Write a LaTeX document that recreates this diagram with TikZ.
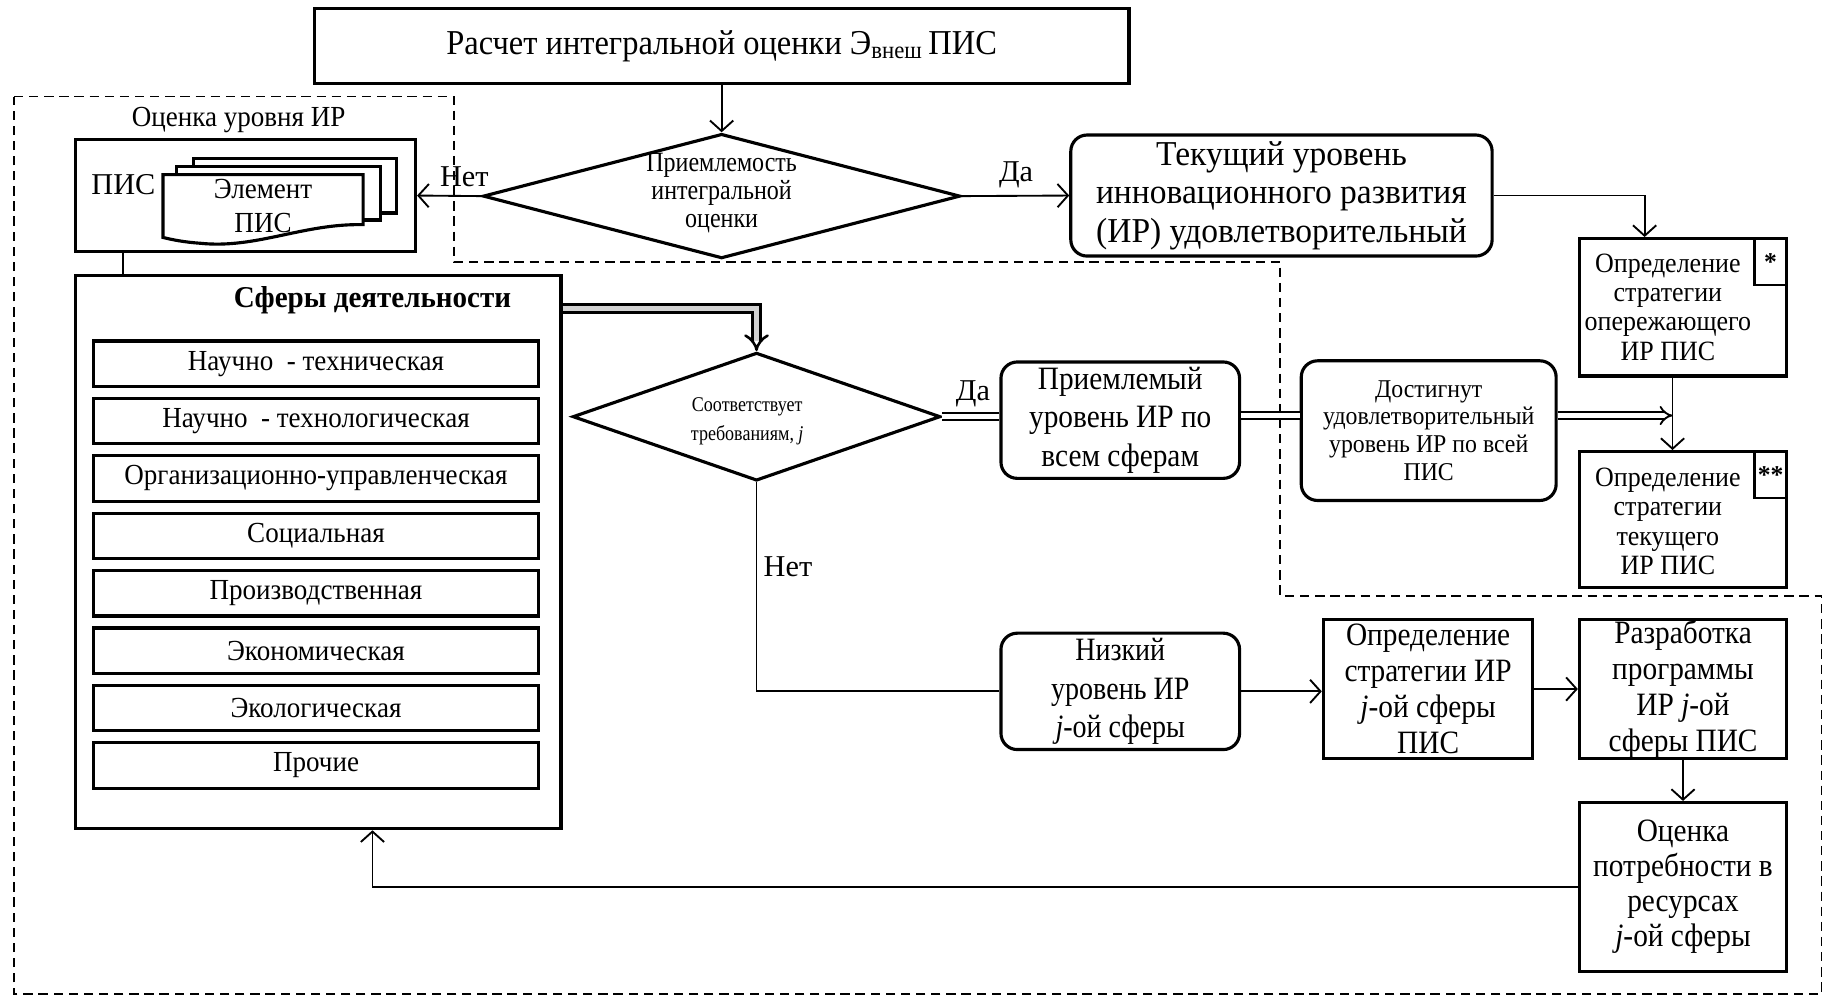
\documentclass[tikz,border=0pt]{standalone}
\usepackage{fontspec}
\setmainfont{Liberation Serif}
\newfontfamily\cond{Liberation Serif}[FakeStretch=0.86]
\newfontfamily\midcond{Liberation Serif}[FakeStretch=0.9]
\newfontfamily\semicond{Liberation Serif}[FakeStretch=0.93]
\newfontfamily\lightcond{Liberation Serif}[FakeStretch=0.96]
\usetikzlibrary{arrows.meta,shapes.geometric}
\begin{document}
\begin{tikzpicture}[x=1pt,y=-1pt,
  box/.style={draw, line width=2.7pt, inner sep=0pt, align=center},
  rbox/.style={box, rounded corners=14pt},
  dia/.style={draw, diamond, line width=2.7pt, inner sep=0pt},
  conn/.style={line width=1.6pt, -{Straight Barb[length=9pt,width=20pt,line width=1.6pt]}},
  plain/.style={line width=1.6pt},
  dbl/.style={line width=1.6pt, double distance=4pt},
  dblarrow/.style={dbl, -{Implies[length=10pt]}},
  graydbl/.style={line width=2.2pt, double=gray!35, double distance=5pt, -{Implies[length=10pt]}},
  lbl/.style={inner sep=0pt, font=\fontsize{26}{28}\selectfont},
  bnd/.style={line width=1.5pt, dash pattern=on 8pt off 5pt}
]
\useasboundingbox (0,0) rectangle (1568,856);

% outer dashed boundary
\draw[bnd] (12,83) -- (390,83) -- (390,225) -- (1100,225) -- (1100,512) -- (1565,512) -- (1565,854) -- (12,854) -- cycle;

% top box
\node[box, minimum width=700pt, minimum height=65pt, font=\fontsize{30}{34}\selectfont\semicond] (top) at (620,39.5)
  {Расчет интегральной оценки Э\textsubscript{внеш}\,ПИС};

% diamond 1
\node[dia, minimum width=410pt, minimum height=107pt] (d1) at (620,168.5) {};
\node[align=center, inner sep=0pt, font=\fontsize{24}{24}\selectfont\cond] (d1t) at (620,166) {Приемлемость\\интегральной\\оценки};

% current level box
\node[rbox, minimum width=362pt, minimum height=104pt, font=\fontsize{30}{33}\selectfont\lightcond] (tek) at (1101,168)
  {Текущий уровень\\инновационного развития\\(ИР) удовлетворительный};

% strategy boxes right
\node[box, minimum width=178pt, minimum height=118pt] (b1) at (1446,264) {};
\node[box, minimum width=28pt, minimum height=40pt, anchor=north east, font=\fontsize{22}{22}\selectfont\bfseries, line width=2.2pt] (s1) at (b1.north east) {*};
\node[align=center, inner sep=0pt, font=\fontsize{24}{25}\selectfont\semicond] (b1t) at (1433,264) {Определение\\стратегии\\опережающего\\ИР ПИС};

\node[box, minimum width=178pt, minimum height=117pt] (b2) at (1446,446.5) {};
\node[box, minimum width=28pt, minimum height=40pt, anchor=north east, font=\fontsize{22}{22}\selectfont\bfseries, line width=2.2pt] (s2) at (b2.north east) {**};
\node[align=center, inner sep=0pt, font=\fontsize{24}{25}\selectfont\semicond] (b2t) at (1433,448) {Определение\\стратегии\\текущего\\ИР ПИС};

% achieved box
\node[rbox, minimum width=219pt, minimum height=120pt, font=\fontsize{22}{24}\selectfont\semicond] (dost) at (1227.5,370)
  {Достигнут\\удовлетворительный\\уровень ИР по всей\\ПИС};

% acceptable box
\node[rbox, minimum width=205pt, minimum height=100pt, font=\fontsize{28}{33}\selectfont\midcond] (prem) at (962.5,361)
  {Приемлемый\\уровень ИР по\\всем сферам};

% diamond 2
\node[dia, minimum width=316pt, minimum height=110pt] (d2) at (650,358) {};
\node[align=center, inner sep=0pt, font=\fontsize{18}{25}\selectfont\cond] (d2t) at (642,362) {Соответствует\\требованиям, \textit{j}};

% low level
\node[rbox, minimum width=205pt, minimum height=100pt, font=\fontsize{28}{33}\selectfont\cond] (niz) at (962.5,594)
  {Низкий\\уровень ИР\\\textit{j}-ой сферы};

\node[box, minimum width=180pt, minimum height=120pt, font=\fontsize{28}{31}\selectfont\midcond] (opr) at (1227,592)
  {Определение\\стратегии ИР\\\textit{j}-ой сферы\\ПИС};

\node[box, minimum width=178pt, minimum height=120pt, font=\fontsize{28}{31}\selectfont\midcond] (razr) at (1446,592)
  {Разработка\\программы\\ИР \textit{j}-ой\\сферы ПИС};

\node[box, minimum width=178pt, minimum height=145pt, font=\fontsize{28}{30}\selectfont\midcond] (ocen) at (1446,762)
  {Оценка\\потребности в\\ресурсах\\\textit{j}-ой сферы};

% spheres box
\node[box, minimum width=417pt, minimum height=475pt] (sf) at (273.5,474.5) {};
\node[inner sep=0pt, font=\fontsize{26}{28}\selectfont\bfseries\lightcond] (sft) at (320,258) {Сферы деятельности};
\foreach \i/\t in {0/{Научно\ \ -\ техническая},1/{Научно\ \ -\ технологическая},2/{Организационно-управленческая},3/{Социальная},4/{Производственная},5/{Экономическая},6/{Экологическая},7/{Прочие}}{
  \node[box, minimum width=383pt, minimum height=39pt, font=\fontsize{25}{26}\selectfont\semicond] (it\i) at (271.5,312.5+49.3*\i) {\t};
}

% PIS box
\node[box, minimum width=292pt, minimum height=96pt] (pis) at (211,168) {};
\node[lbl] (pisl) at (106,159) {ПИС};
\node[inner sep=0pt, font=\fontsize{25}{28}\selectfont\semicond] (ocl) at (205,103) {Оценка уровня ИР};
% document stack
\draw[line width=2.7pt, fill=white] (166,136) -- (341,136) -- (341,183) -- (166,183) -- cycle;
\draw[line width=2.7pt, fill=white] (152,143) -- (327,143) -- (327,189) -- (152,189) -- cycle;
\draw[line width=2.7pt, fill=white] (140,150) -- (312,150) -- (312,193)
   .. controls (260,192) and (220,214) .. (172,209) .. controls (158,208) and (148,206) .. (140,204) -- cycle;
\node[align=center, inner sep=0pt, font=\fontsize{25}{30}\selectfont\semicond] (elt) at (226,177) {Элемент\\ПИС};

% connectors
\draw[conn] (top.south) -- (d1.north);
\draw[conn] (d1.west) -- (pis.east);
\node[lbl] (net1) at (399,152) {Нет};
\draw[conn] (d1.east) -- (tek.west);
\node[lbl] (da1) at (873,150) {Да};
\draw[conn] (tek.east) -| ([xshift=-33pt]b1.north);
\draw[conn] ([xshift=-9pt]b1.south) -- ([xshift=-9pt]b2.north);
\coordinate (join) at (1437,357);
\draw[dblarrow] (dost.east |- join) -- (join);
\draw[dbl] (prem.east |- join) -- (dost.west |- join);
\draw[dbl] (d2.east) -- (prem.west |- d2.east);
\node[lbl] (da2) at (836,338) {Да};
\draw[graydbl] (sf.east |- 0,265) -| (d2.north);
\draw[plain] (d2.south) |- (niz.west);
\node[lbl] (net2) at (677,487) {Нет};
\draw[conn] (niz.east) -- (opr.west |- niz.east);
\draw[conn] (opr.east) -- (razr.west);
\draw[conn] (razr.south) -- (ocen.north);
\draw[conn] (ocen.west) -| ([xshift=46.5pt]sf.south);
\draw[plain] ([xshift=-105pt]pis.south) -- ([xshift=-167.5pt]sf.north);
\end{tikzpicture}
\end{document}
